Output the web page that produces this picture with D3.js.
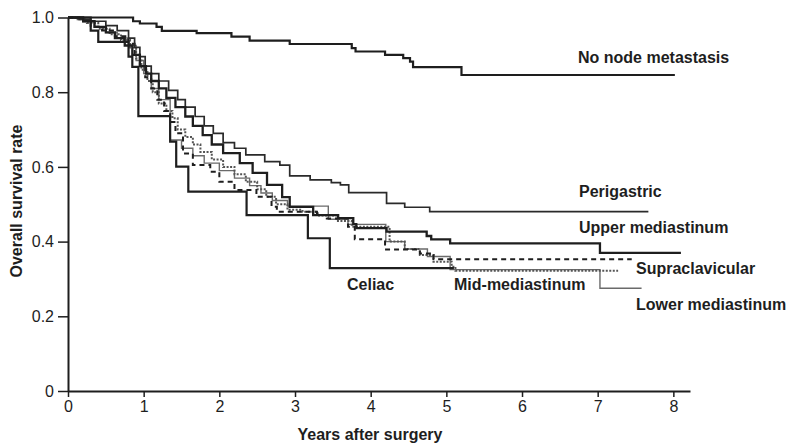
<!DOCTYPE html>
<html>
<head>
<meta charset="utf-8">
<script src="https://cdn.jsdelivr.net/npm/d3@7"></script>
<style>
  body { margin: 0; background: #fff; }
  svg { font-family: "Liberation Sans", Arial, sans-serif; }
</style>
</head>
<body>
<svg width="789" height="445"></svg>
<script>
// step points [years, survival]
const noNode = [[0,1],[0.86,0.99],[0.95,0.984],[1.17,0.975],[1.24,0.964],[1.70,0.958],[2.16,0.949],[2.40,0.938],[2.93,0.929],[3.75,0.918],[3.80,0.909],[4.19,0.90],[4.43,0.891],[4.52,0.882],[4.56,0.867],[5.20,0.846],[8.02,0.846]];
const perigastric = [[0,1],[0.15,0.995],[0.3,0.99],[0.5,0.978],[0.65,0.965],[0.8,0.945],[0.88,0.92],[0.95,0.895],[1.02,0.87],[1.1,0.85],[1.2,0.83],[1.33,0.805],[1.45,0.78],[1.55,0.76],[1.68,0.735],[1.8,0.71],[1.92,0.69],[2.05,0.665],[2.2,0.65],[2.35,0.632],[2.6,0.614],[2.8,0.605],[2.93,0.576],[3.2,0.565],[3.48,0.558],[3.6,0.552],[3.71,0.531],[4.21,0.5025],[4.45,0.492],[4.78,0.48],[7.67,0.48]];
const upperMed = [[0,1],[0.2,0.99],[0.35,0.975],[0.5,0.96],[0.62,0.945],[0.75,0.925],[0.85,0.9],[0.95,0.87],[1.03,0.85],[1.1,0.83],[1.2,0.81],[1.3,0.785],[1.42,0.76],[1.55,0.735],[1.65,0.71],[1.78,0.685],[1.9,0.66],[2.05,0.637],[2.27,0.61],[2.44,0.584],[2.63,0.552],[2.83,0.519],[2.93,0.493],[3.24,0.471],[3.57,0.463],[3.77,0.447],[3.81,0.436],[4.21,0.4265],[4.74,0.415],[4.8,0.406],[5.05,0.395],[7.03,0.37],[8.1,0.37]];
const supraclav = [[0,1],[0.15,0.99],[0.3,0.975],[0.45,0.965],[0.62,0.95],[0.8,0.93],[0.88,0.9],[0.95,0.87],[1.02,0.84],[1.1,0.81],[1.18,0.78],[1.27,0.75],[1.35,0.72],[1.42,0.69],[1.52,0.636],[1.65,0.605],[1.88,0.587],[2.0,0.56],[2.2,0.538],[2.49,0.52],[2.69,0.4935],[2.76,0.48],[3.29,0.471],[3.42,0.462],[3.7,0.44],[3.79,0.406],[4.19,0.379],[4.65,0.368],[4.8,0.364],[4.83,0.3525],[7.45,0.3525]];
const midMed = [[0,1],[0.1,0.995],[0.25,0.985],[0.4,0.97],[0.55,0.955],[0.7,0.94],[0.82,0.92],[0.9,0.89],[0.97,0.86],[1.05,0.83],[1.12,0.8],[1.2,0.77],[1.3,0.75],[1.38,0.73],[1.45,0.7],[1.55,0.68],[1.65,0.66],[1.75,0.64],[1.9,0.62],[2.05,0.6],[2.2,0.58],[2.35,0.56],[2.5,0.54],[2.62,0.52],[2.75,0.5],[2.9,0.485],[3.1,0.48],[3.3,0.47],[3.55,0.455],[3.75,0.44],[4.25,0.40],[4.45,0.38],[4.65,0.364],[4.83,0.346],[5.07,0.333],[5.12,0.322],[7.27,0.322]];
const lowerMed = [[0,1],[0.2,0.99],[0.35,0.975],[0.5,0.96],[0.65,0.945],[0.8,0.925],[0.9,0.885],[1.0,0.85],[1.1,0.81],[1.2,0.78],[1.35,0.672],[1.5,0.65],[1.65,0.63],[1.8,0.61],[2.0,0.59],[2.2,0.57],[2.4,0.55],[2.55,0.53],[2.7,0.51],[2.9,0.495],[3.44,0.46],[3.7,0.446],[4.2,0.40],[4.45,0.38],[4.75,0.36],[5.05,0.325],[7.03,0.275],[7.58,0.275]];
const celiac = [[0,1],[0.3,0.965],[0.4,0.935],[0.8,0.895],[0.85,0.868],[0.93,0.736],[1.35,0.6675],[1.43,0.6005],[1.59,0.534],[2.36,0.471],[3.17,0.409],[3.46,0.329],[5.1,0.329]];

const xTicks = [0,1,2,3,4,5,6,7,8];
const yTicks = [0,0.2,0.4,0.6,0.8,1.0];
const yTickLabels = ["0","0.2","0.4","0.6","0.8","1.0"];

// label text, start x, baseline y
const labels = [
  ["No node metastasis", 578, 63],
  ["Perigastric", 579, 197],
  ["Upper mediastinum", 579, 233],
  ["Supraclavicular", 636, 274],
  ["Lower mediastinum", 636, 310],
  ["Celiac", 347, 290],
  ["Mid-mediastinum", 454, 290]
];

const svg = d3.select('svg');

const x = d3.scaleLinear().domain([0, 8.22]).range([68, 690]);
const y = d3.scaleLinear().domain([0, 1]).range([391, 17.5]);

const ink = '#1e1e1e';

svg.append('g')
  .attr('transform', 'translate(68,0)')
  .call(d3.axisLeft(y).tickValues(yTicks).tickSize(10).tickSizeOuter(0)
    .tickFormat((d, i) => yTickLabels[i]))
  .call(g => g.select('.domain').attr('stroke', ink).attr('stroke-width', 2))
  .call(g => g.selectAll('.tick line').attr('stroke', ink).attr('stroke-width', 1.5))
  .call(g => g.selectAll('.tick text').attr('x', -14).attr('fill', ink)
    .style('font-size', '16px'));

svg.append('g')
  .attr('transform', 'translate(0,391)')
  .call(d3.axisBottom(x).tickValues(xTicks).tickSize(6).tickSizeOuter(0)
    .tickFormat(d3.format('d')))
  .call(g => g.select('.domain').attr('stroke', ink).attr('stroke-width', 2))
  .call(g => g.selectAll('.tick line').attr('stroke', ink).attr('stroke-width', 1.5))
  .call(g => g.selectAll('.tick text').attr('y', 10).attr('fill', ink)
    .style('font-size', '16px'));

const line = d3.line()
  .x(d => x(d[0]))
  .y(d => y(d[1]))
  .curve(d3.curveStepAfter);

const series = [
  {data: lowerMed, color: '#6a6a6a', width: 1.4, dash: null},
  {data: midMed, color: '#555', width: 2, dash: '2,1.5'},
  {data: supraclav, color: ink, width: 2, dash: '5,4'},
  {data: celiac, color: ink, width: 2.2, dash: null},
  {data: perigastric, color: '#2a2a2a', width: 1.7, dash: null},
  {data: upperMed, color: ink, width: 2.3, dash: null},
  {data: noNode, color: ink, width: 2.2, dash: null}
];

svg.append('g')
  .selectAll('path')
  .data(series)
  .enter()
  .append('path')
  .attr('d', d => line(d.data))
  .attr('fill', 'none')
  .attr('stroke', d => d.color)
  .attr('stroke-width', d => d.width)
  .attr('stroke-dasharray', d => d.dash);

svg.append('g')
  .selectAll('text')
  .data(labels)
  .enter()
  .append('text')
  .attr('x', d => d[1])
  .attr('y', d => d[2])
  .attr('fill', ink)
  .style('font-size', '16px')
  .style('font-weight', 'bold')
  .text(d => d[0]);

svg.append('text')
  .attr('x', 370)
  .attr('y', 440)
  .attr('text-anchor', 'middle')
  .attr('fill', ink)
  .style('font-size', '16px')
  .style('font-weight', 'bold')
  .text('Years after surgery');

svg.append('text')
  .attr('transform', 'translate(22,201) rotate(-90)')
  .attr('text-anchor', 'middle')
  .attr('fill', ink)
  .style('font-size', '16px')
  .style('font-weight', 'bold')
  .text('Overall survival rate');
</script>
</body>
</html>
